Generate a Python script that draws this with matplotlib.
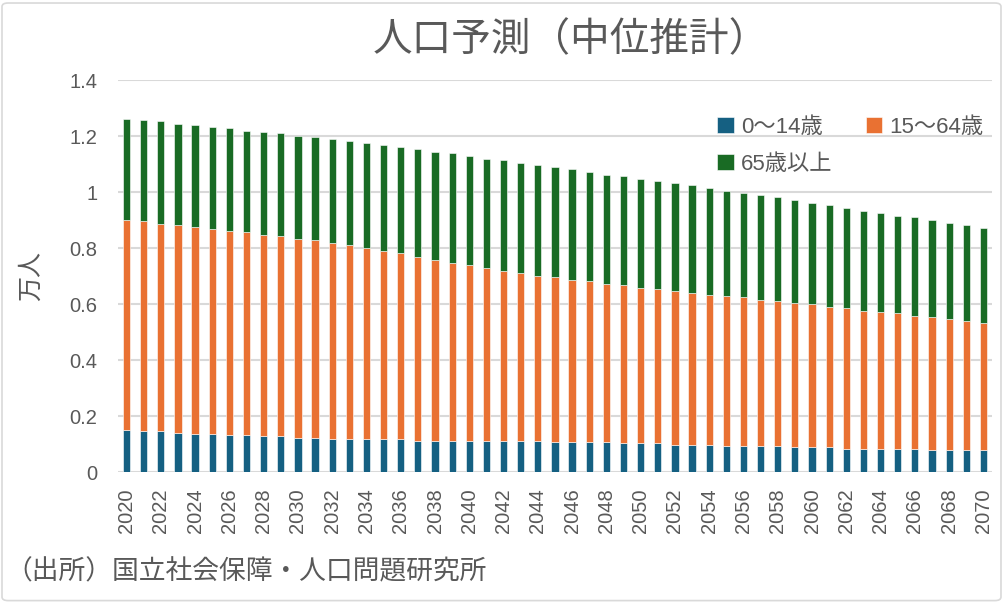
import matplotlib
matplotlib.use("Agg")
import matplotlib.pyplot as plt
from matplotlib.patches import FancyBboxPatch
import numpy as np

plt.rcParams['font.family'] = ['Liberation Sans', 'Noto Sans CJK JP', 'DejaVu Sans']

years = list(range(2020, 2071))
age_0_14 = [0.151, 0.146, 0.146, 0.141, 0.136, 0.136, 0.131, 0.131, 0.127, 0.127,
            0.122, 0.122, 0.117, 0.117, 0.117, 0.117, 0.117, 0.112, 0.112, 0.112,
            0.112, 0.112, 0.112, 0.112, 0.112, 0.108, 0.108, 0.108, 0.108, 0.103,
            0.103, 0.103, 0.098, 0.098, 0.098, 0.094, 0.094, 0.094, 0.094, 0.089,
            0.089, 0.089, 0.084, 0.084, 0.084, 0.084, 0.084, 0.079, 0.079, 0.079,
            0.079]
top_15_64 = [0.900, 0.895, 0.886, 0.881, 0.876, 0.867, 0.862, 0.857, 0.848, 0.843,
             0.833, 0.829, 0.819, 0.810, 0.800, 0.790, 0.781, 0.767, 0.757, 0.748,
             0.738, 0.729, 0.719, 0.710, 0.700, 0.695, 0.686, 0.681, 0.671, 0.667,
             0.657, 0.652, 0.648, 0.638, 0.633, 0.629, 0.624, 0.614, 0.610, 0.605,
             0.600, 0.590, 0.586, 0.576, 0.571, 0.567, 0.557, 0.552, 0.548, 0.538,
             0.533]
total = [1.262, 1.257, 1.252, 1.243, 1.238, 1.233, 1.229, 1.219, 1.214, 1.210,
         1.200, 1.195, 1.190, 1.181, 1.176, 1.167, 1.162, 1.152, 1.143, 1.138,
         1.129, 1.119, 1.114, 1.105, 1.095, 1.090, 1.081, 1.071, 1.062, 1.057,
         1.048, 1.038, 1.033, 1.024, 1.014, 1.005, 0.995, 0.990, 0.981, 0.971,
         0.962, 0.952, 0.943, 0.933, 0.924, 0.914, 0.910, 0.900, 0.890, 0.881,
         0.871]

a = np.array(age_0_14)
b = np.array(top_15_64) - a
c = np.array(total) - np.array(top_15_64)

labels = ['0～14歳', '15～64歳', '65歳以上']
colors = ['#156082', '#E97132', '#196B24']
text_color = '#595959'
grid_color = '#D9D9D9'

fig = plt.figure(figsize=(10.04, 6.03), dpi=100)
ax = fig.add_axes([0.1175, 0.2172, 0.8705, 0.6501])

x = np.arange(len(years))
w = 0.42
h0 = ax.bar(x, a, w, color=colors[0], label=labels[0], edgecolor='white', linewidth=0.4, zorder=3)
h1 = ax.bar(x, b, w, bottom=a, color=colors[1], label=labels[1], edgecolor='white', linewidth=0.4, zorder=3)
h2 = ax.bar(x, c, w, bottom=a + b, color=colors[2], label=labels[2], edgecolor='white', linewidth=0.4, zorder=3)

ax.set_xlim(-0.5, len(years) - 0.5)
ax.set_ylim(0, 1.4)
ax.set_yticks(np.arange(0, 1.41, 0.2))
ax.set_yticklabels(['0', '0.2', '0.4', '0.6', '0.8', '1', '1.2', '1.4'])
ax.set_xticks(x[::2])
ax.set_xticklabels([str(y) for y in years[::2]], rotation=90)
ax.tick_params(axis='both', length=0, colors=text_color, labelsize=14.5)
ax.tick_params(axis='y', pad=15)
ax.tick_params(axis='x', pad=12)
ax.grid(axis='y', color=grid_color, linewidth=1.5, zorder=0)
for s in ax.spines.values():
    s.set_visible(False)

fig.text(31 / 1004, 1 - 276 / 603, '万人', rotation=90, ha='center', va='center',
         fontsize=18, color=text_color)

leg = fig.legend([h0, h2, h1], [labels[0], labels[2], labels[1]],
                 loc='upper right', ncol=2, frameon=False, fontsize=16,
                 handlelength=0.75, handleheight=0.75, handletextpad=0.3,
                 columnspacing=1.5, labelspacing=0.72, labelcolor=text_color,
                 borderaxespad=0, borderpad=0,
                 bbox_to_anchor=(983 / 1004, 1 - 117 / 603))

fig.text(0.569, 1 - 40 / 603, '人口予測（中位推計）', ha='center', va='center',
         fontsize=28.5, color=text_color)
fig.text(0.005, 1 - 572 / 603, '（出所）国立社会保障・人口問題研究所', ha='left', va='center',
         fontsize=19.3, color=text_color)

border = FancyBboxPatch((0.002, 0.004), 0.995, 0.991, boxstyle='round,pad=0,rounding_size=0.006',
                        transform=fig.transFigure, facecolor='none', edgecolor=grid_color,
                        linewidth=1.2)
fig.patches.append(border)

fig.savefig('out.png', dpi=100)
